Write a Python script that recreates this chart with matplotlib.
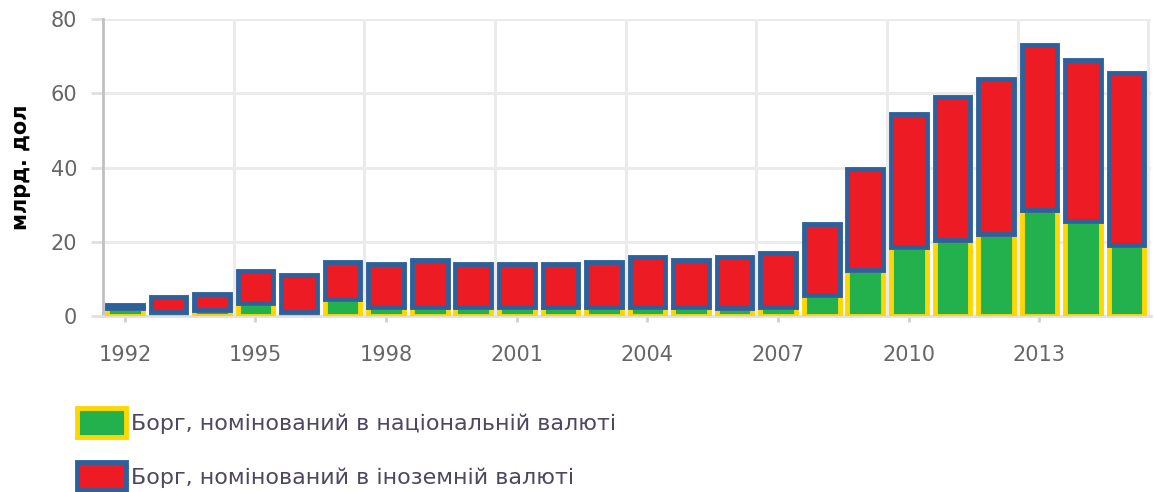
import matplotlib.pyplot as plt
from matplotlib.patches import Patch

years = list(range(1992, 2016))
# borg u natsionalnii valiuti (green) and total debt, bln USD
national = [2.0, 1.0, 1.5, 3.5, 1.0, 4.5, 2.5, 2.5, 2.5, 2.5, 2.5, 2.5,
            2.5, 2.5, 2.0, 2.5, 5.5, 12.5, 18.5, 20.5, 22.0, 28.5, 25.5, 19.0]
total = [3.0, 5.0, 6.0, 12.0, 11.0, 14.5, 14.0, 15.0, 14.0, 14.0, 14.0, 14.5,
         15.8, 15.0, 15.8, 17.0, 24.8, 39.5, 54.3, 59.0, 64.0, 73.0, 69.0, 65.5]
foreign = [t - n for t, n in zip(total, national)]

xticks = [1992, 1995, 1998, 2001, 2004, 2007, 2010, 2013]
yticks = [0, 20, 40, 60, 80]

green, yellow = '#22b14c', '#ffd700'
red, blue = '#ed1c24', '#2e619c'
grid_c = '#ebebeb'
txt_c = '#666666'

fig = plt.figure(figsize=(11.54, 4.92), dpi=100)
ax = fig.add_axes([0.0893, 0.358, 0.9077, 0.603])

ax.bar(years, national, width=0.82, color=green, edgecolor=yellow,
       linewidth=3.5, zorder=3)
ax.bar(years, foreign, bottom=national, width=0.82, color=red,
       edgecolor=blue, linewidth=3.5, zorder=3)

ax.set_xlim(1991.5, 2015.55)
ax.set_ylim(0, 80)

# vertical grid sits on category boundaries every 3 years
for gx in range(1991, 2013, 3):
    ax.axvline(gx + 3.5, color=grid_c, lw=2.2, zorder=0)
for gy in yticks[1:]:
    ax.axhline(gy, color=grid_c, lw=2.2, zorder=0)

ax.set_xticks(xticks)
ax.set_yticks(yticks)
ax.tick_params(axis='x', length=4, width=2, color='#d0d0d0', pad=17,
               labelsize=15, labelcolor=txt_c)
ax.tick_params(axis='y', length=9, width=2, color='#e0e0e0', pad=9.5,
               labelsize=15, labelcolor=txt_c)

for side in ['top', 'right']:
    ax.spines[side].set_visible(False)
ax.spines['left'].set_color('#c0c0c0')
ax.spines['left'].set_linewidth(2)
ax.spines['bottom'].set_color('#e0e0e0')
ax.spines['bottom'].set_linewidth(2)

ax.set_ylabel('млрд. дол', fontsize=15, fontweight='bold', color='black',
              labelpad=14)

handles = [
    Patch(facecolor=green, edgecolor=yellow, linewidth=3.5),
    Patch(facecolor=red, edgecolor=blue, linewidth=3.5),
]
labels = ['Борг, номінований в національній валюті',
          'Борг, номінований в іноземній валюті']
fig.legend(handles, labels, loc='upper left', bbox_to_anchor=(0.0665, 0.170),
           frameon=False, fontsize=16, labelcolor='#4f4760',
           handlelength=2.2, handleheight=1.58, handletextpad=0.22,
           labelspacing=1.15, borderpad=0, borderaxespad=0)

fig.savefig('out.png', dpi=100)
